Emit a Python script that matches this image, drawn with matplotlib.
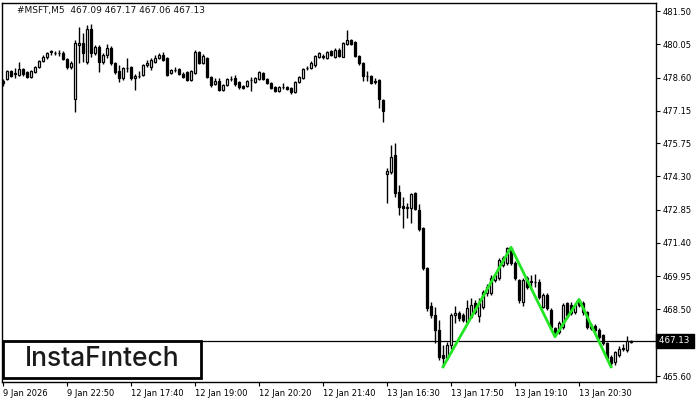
#!/usr/bin/env python3
"""MSFT M5 candlestick chart with a green pattern overlay."""
import matplotlib
matplotlib.use("Agg")
import matplotlib.pyplot as plt
import numpy as np

OUTPUT = "out.png"

# OHLC of the M5 candles
opens = [
    478.45, 478.54, 478.89, 478.80, 478.71, 478.97, 478.84, 478.63, 478.84, 479.06,
    479.32, 479.50, 479.71, 479.67, 479.67, 479.67, 479.41, 479.06, 477.67, 480.02,
    480.11, 479.28, 480.72, 479.67, 479.93, 479.28, 479.58, 479.89, 479.24, 478.89,
    478.58, 479.00, 479.06, 478.58, 478.67, 478.71, 479.15, 479.06, 479.28, 479.45,
    479.58, 479.45, 478.80, 478.93, 478.97, 478.76, 478.84, 478.49, 478.80, 479.71,
    479.24, 479.45, 478.63, 478.32, 478.45, 478.06, 478.28, 478.54, 478.58, 478.41,
    478.23, 478.23, 478.49, 478.41, 478.54, 478.80, 478.54, 478.36, 478.19, 478.02,
    478.19, 478.19, 478.15, 477.97, 478.41, 478.58, 479.00, 479.02, 479.15, 479.50,
    479.54, 479.45, 479.76, 479.50, 479.80, 479.50, 480.06, 480.24, 480.15, 479.54,
    479.24, 478.67, 478.67, 478.45, 478.49, 477.62,
    474.40, 474.49, 475.23, 473.62, 473.01, 472.92, 472.92, 473.57, 472.83, 472.05,
    470.31, 468.65, 468.26, 467.61, 466.52, 466.39, 466.95, 468.26, 468.35, 468.26,
    467.95, 468.17, 468.78, 468.22, 468.61, 469.22, 469.22, 469.78, 469.87, 470.44,
    470.52, 471.18, 470.52, 469.78, 468.83, 469.87, 469.70, 469.70, 469.70, 468.61,
    469.13, 468.48, 467.69, 467.52, 467.74, 468.78, 468.70, 468.39, 468.91, 468.78,
    468.39, 467.82, 467.78, 467.61, 467.39, 467.04, 466.43, 466.21, 466.52, 466.78,
    466.74, 467.09,
]
highs = [
    478.55, 478.95, 478.93, 479.02, 479.28, 479.02, 478.89, 478.93, 479.10, 479.37,
    479.58, 479.71, 479.80, 479.76, 479.80, 479.76, 479.45, 479.32, 480.24, 480.80,
    480.54, 480.89, 480.93, 480.02, 480.02, 479.67, 480.06, 479.98, 479.28, 479.15,
    479.06, 479.45, 479.10, 478.76, 478.89, 479.19, 479.37, 479.45, 479.58, 479.67,
    479.71, 479.50, 478.97, 479.06, 479.02, 478.84, 478.89, 478.93, 479.80, 479.76,
    479.63, 479.50, 478.67, 478.58, 478.58, 478.32, 478.58, 478.67, 478.71, 478.45,
    478.28, 478.49, 478.63, 478.63, 478.89, 478.84, 478.58, 478.41, 478.23, 478.23,
    478.36, 478.23, 478.19, 478.45, 478.67, 479.02, 479.10, 479.32, 479.58, 479.71,
    479.63, 479.76, 479.80, 479.89, 479.89, 480.15, 480.67, 480.28, 480.20, 479.58,
    479.28, 478.89, 478.71, 478.58, 478.54, 477.67,
    474.66, 475.66, 475.75, 473.92, 473.40, 473.14, 473.57, 473.62, 473.10, 472.10,
    470.35, 468.83, 468.61, 468.04, 466.95, 467.10, 468.35, 468.65, 468.45, 468.35,
    468.90, 469.00, 468.90, 469.00, 469.35, 469.60, 470.00, 470.10, 470.75, 470.85,
    471.22, 471.22, 470.60, 469.83, 469.85, 469.95, 470.00, 470.05, 469.83, 469.22,
    469.20, 468.56, 467.74, 468.00, 468.78, 468.83, 468.83, 468.80, 468.94, 468.85,
    468.45, 467.90, 467.85, 467.70, 467.45, 467.10, 466.50, 466.70, 466.90, 467.00,
    467.34, 467.17,
]
lows = [
    478.25, 478.50, 478.62, 478.58, 478.67, 478.67, 478.58, 478.58, 478.80, 479.02,
    479.28, 479.41, 479.58, 479.58, 479.54, 479.37, 478.97, 478.97, 477.10, 479.24,
    479.28, 479.20, 479.50, 479.58, 478.84, 479.20, 479.45, 479.15, 478.76, 478.40,
    478.50, 478.84, 478.50, 478.06, 478.58, 478.67, 479.06, 478.93, 479.24, 479.41,
    479.32, 478.67, 478.76, 478.84, 478.71, 478.58, 478.45, 478.45, 478.76, 479.19,
    479.19, 478.58, 478.19, 478.28, 478.02, 478.02, 478.23, 478.45, 478.23, 478.10,
    478.10, 478.19, 478.02, 478.36, 478.49, 478.49, 478.32, 478.10, 477.97, 477.97,
    478.10, 478.06, 477.89, 477.93, 478.36, 478.54, 478.93, 478.97, 479.06, 479.45,
    479.41, 479.41, 479.54, 479.45, 479.50, 479.50, 480.02, 480.02, 479.50, 479.15,
    478.45, 478.45, 478.32, 478.32, 477.28, 476.67,
    473.14, 474.40, 473.40, 472.61, 472.05, 472.50, 472.27, 472.83, 471.90, 470.20,
    468.45, 468.13, 467.04, 466.30, 466.00, 466.30, 466.78, 467.91, 468.00, 467.95,
    467.85, 468.13, 468.30, 467.95, 468.50, 469.10, 469.13, 469.70, 469.80, 470.35,
    470.44, 470.44, 469.78, 468.78, 468.65, 469.40, 469.35, 469.48, 468.95, 468.56,
    468.48, 467.65, 467.34, 467.45, 467.65, 468.13, 468.26, 468.30, 468.60, 468.26,
    467.65, 467.60, 467.50, 467.20, 466.95, 466.30, 466.00, 466.10, 466.45, 466.70,
    466.65, 467.06,
]
closes = [
    478.36, 478.89, 478.67, 478.76, 478.97, 478.76, 478.63, 478.89, 479.06, 479.32,
    479.50, 479.67, 479.76, 479.69, 479.69, 479.41, 479.06, 479.23, 480.11, 480.11,
    479.67, 480.72, 479.67, 479.93, 479.28, 479.58, 479.89, 479.24, 478.84, 478.58,
    479.02, 479.02, 478.58, 478.67, 478.69, 479.15, 479.24, 479.37, 479.45, 479.58,
    479.37, 478.71, 478.93, 478.95, 478.76, 478.63, 478.49, 478.89, 479.71, 479.24,
    479.54, 478.63, 478.28, 478.45, 478.06, 478.28, 478.54, 478.56, 478.32, 478.19,
    478.15, 478.45, 478.51, 478.58, 478.84, 478.54, 478.36, 478.15, 478.02, 478.19,
    478.21, 478.10, 477.97, 478.41, 478.63, 478.97, 479.02, 479.24, 479.54, 479.67,
    479.50, 479.71, 479.58, 479.80, 479.54, 480.11, 480.24, 480.06, 479.54, 479.24,
    478.67, 478.69, 478.36, 478.41, 477.67, 477.15,
    474.53, 475.14, 473.57, 472.96, 472.92, 472.96, 473.53, 472.88, 472.00, 470.31,
    468.56, 468.26, 467.61, 466.43, 466.39, 466.95, 468.26, 468.35, 468.13, 468.04,
    468.56, 468.70, 468.39, 468.78, 469.26, 469.48, 469.87, 470.00, 470.65, 470.75,
    471.18, 470.52, 469.87, 468.91, 469.78, 469.48, 469.72, 469.68, 469.04, 469.13,
    468.56, 467.74, 467.52, 467.91, 468.70, 468.26, 468.35, 468.70, 468.70, 468.39,
    467.74, 467.69, 467.61, 467.30, 467.04, 466.39, 466.17, 466.65, 466.78, 466.82,
    467.13, 467.13,
]

# pattern overlay (candle index, price)
pattern_idx = [110, 127, 138, 144, 152]
pattern_price = [466.00, 471.21, 467.31, 468.94, 466.00]

date_ticks = [0, 16, 32, 48, 64, 80, 96, 112, 128, 144]
date_labels = ["9 Jan 2026", "9 Jan 22:50", "12 Jan 17:40", "12 Jan 19:00",
               "12 Jan 20:20", "12 Jan 21:40", "13 Jan 16:30", "13 Jan 17:50",
               "13 Jan 19:10", "13 Jan 20:30"]
price_ticks = [481.50, 480.05, 478.60, 477.15, 475.75, 474.30, 472.85,
               471.40, 469.95, 468.50, 465.60]
last_price = 467.13
title = "#MSFT,M5  467.09 467.17 467.06 467.13"


def main() -> int:
    o = np.array(opens)
    h = np.array(highs)
    lo = np.array(lows)
    c = np.array(closes)
    x = np.arange(len(o))

    fig = plt.figure(figsize=(7, 4), dpi=100)
    ax = fig.add_axes([1.5 / 700, 18 / 400, 654.5 / 700, 379 / 400])

    ax.vlines(x, lo, h, color="black", linewidth=1, zorder=2)
    up = c >= o
    bottom = np.minimum(o, c)
    height = np.abs(c - o)
    ax.bar(x[up], height[up], bottom=bottom[up], width=0.5, facecolor="white",
           edgecolor="black", linewidth=0.9, zorder=3)
    ax.bar(x[~up], height[~up], bottom=bottom[~up], width=0.5, facecolor="black",
           edgecolor="black", linewidth=0.9, zorder=3)

    ax.plot(pattern_idx, pattern_price, color="#22e622", linewidth=2, zorder=4)
    ax.axhline(last_price, color="black", linewidth=0.9, zorder=1)

    ax.set_xlim(-0.375, 163.25)
    ax.set_ylim(465.34, 481.85)

    ax.set_xticks(date_ticks)
    ax.set_xticklabels(date_labels, ha="left")
    ax.yaxis.tick_right()
    ax.set_yticks(price_ticks)
    ax.set_yticklabels([f"{p:.2f}" for p in price_ticks])
    ax.tick_params(axis="both", direction="out", length=3, width=0.8,
                   labelsize=6, pad=1.5, colors="black")
    ax.tick_params(axis="x", pad=2)
    for s in ax.spines.values():
        s.set_linewidth(1)
        s.set_color("black")

    ax.text(1.004, last_price, f"{last_price:.2f} ", transform=ax.get_yaxis_transform(),
            color="white", fontsize=6.3, va="center", ha="left", zorder=6,
            bbox=dict(facecolor="black", edgecolor="black", pad=1.8))

    fig.text(17 / 700, 1 - 10 / 400, title, fontsize=6.5, va="center", ha="left",
             color="#111111")

    # logo box in the bottom-left corner
    fig.patches.append(plt.Rectangle((3 / 700, 22 / 400), 198 / 700, 37 / 400,
                                     transform=fig.transFigure, facecolor="white",
                                     edgecolor="black", linewidth=2, zorder=5))
    fig.text(102 / 700, 1 - 359.5 / 400, "InstaF\u0131ntech", fontsize=19,
             family=["Inter", "DejaVu Sans"], fontweight="medium", color="#1a1a1a",
             ha="center", va="center", zorder=6)

    fig.savefig(OUTPUT, dpi=100)
    return 0


if __name__ == "__main__":
    raise SystemExit(main())
